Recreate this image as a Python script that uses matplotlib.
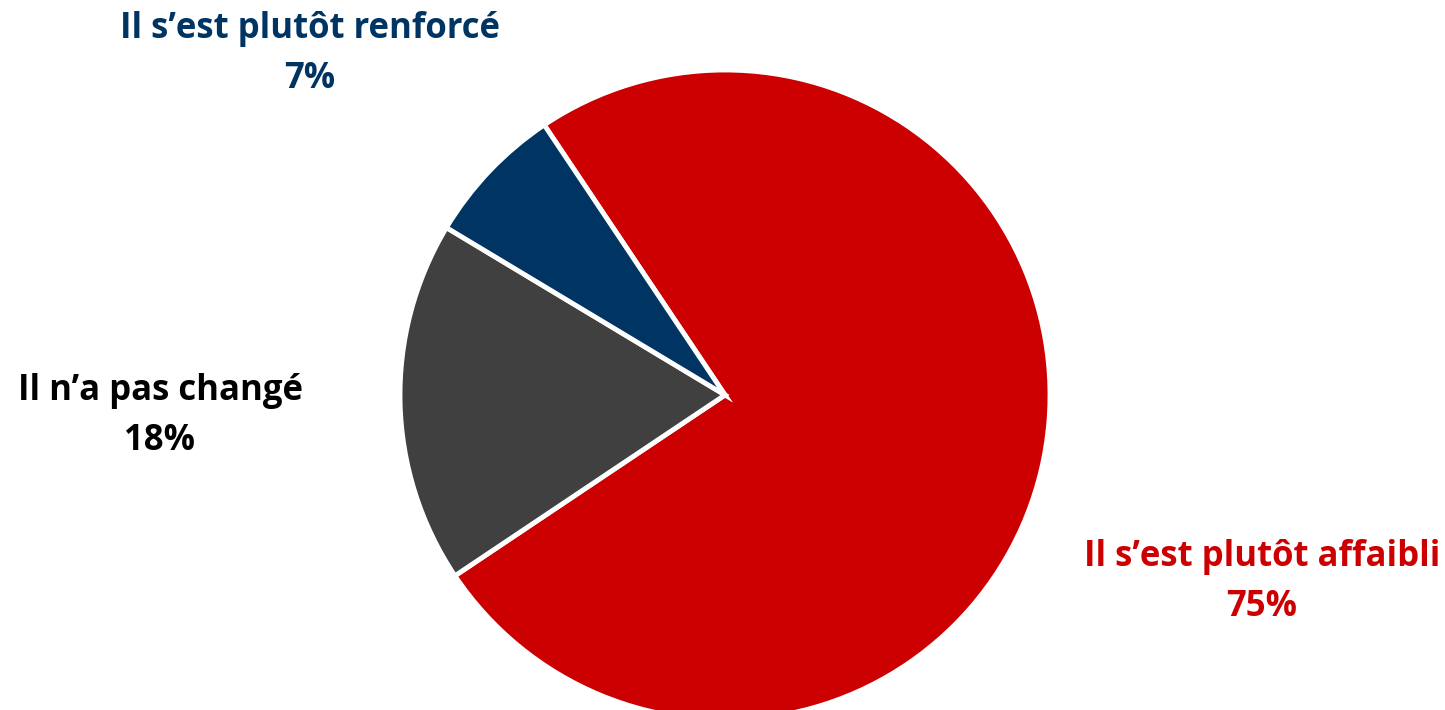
import matplotlib
matplotlib.use("Agg")
import matplotlib.pyplot as plt

labels = ["Il s\u2019est plutôt affaibli", "Il n\u2019a pas changé", "Il s\u2019est plutôt renforcé"]
values = [75, 18, 7]
colors = ["#CC0000", "#404040", "#003462"]
text_colors = ["#CC0000", "#000000", "#003462"]

W, H = 1445, 710
fig = plt.figure(figsize=(W / 100, H / 100), dpi=100)

cx, cy, r = 725, 395, 325
ax = fig.add_axes([(cx - r) / W, (H - cy - r) / H, 2 * r / W, 2 * r / H])
ax.pie(values, colors=colors, startangle=123.8, counterclock=False,
       wedgeprops=dict(edgecolor="white", linewidth=3.5))
ax.set_xlim(-1.0, 1.0)
ax.set_ylim(-1.0, 1.0)
ax.set_aspect("equal")
ax.axis("off")

# label positions in pixels (x centre, y of first line)
label_pos = [(1262, 557), (160, 391), (310, 29)]
for lab, val, col, (x, y) in zip(labels, values, text_colors, label_pos):
    fig.text(x / W, 1 - y / H, lab, ha="center", va="center", color=col,
             fontsize=25, fontweight="bold", family="Open Sans")
    fig.text(x / W, 1 - (y + 50) / H, f"{val}%", ha="center", va="center", color=col,
             fontsize=25, fontweight="bold", family="Open Sans")

fig.savefig("out.png", dpi=100)
